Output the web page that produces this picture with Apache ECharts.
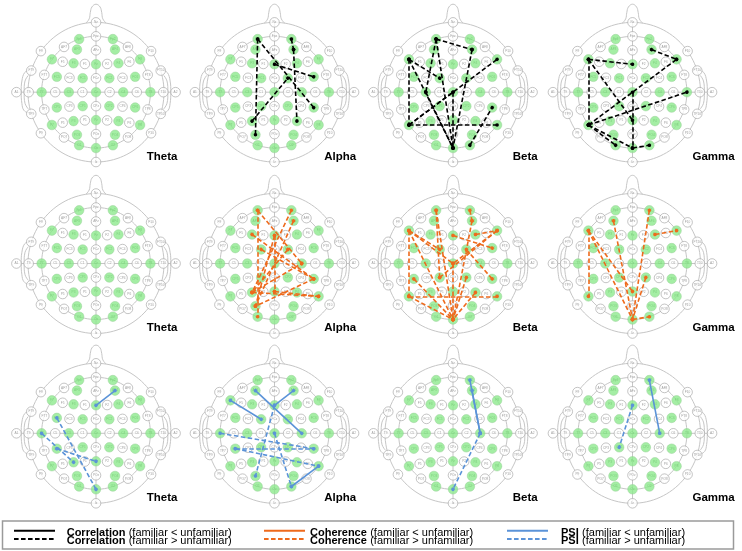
<!DOCTYPE html>
<html>
<head>
<meta charset="utf-8">
<script src="https://cdn.jsdelivr.net/npm/echarts@6/dist/echarts.min.js"></script>
<style>
html, body { margin: 0; padding: 0; background: #fff; }
#chart { width: 742px; height: 551px; }
</style>
</head>
<body>
<div id="chart"></div>
<script>
// montage: name, x, y in head units (Cz = 0,0, nose up)
const electrodes = [
  ['Nz', 0, 5], ['Fpz', 0, 4], ['Fp1', -1.24, 3.8], ['Fp2', 1.24, 3.8],
  ['AF7', -2.35, 3.24], ['AF3', -1.4, 3.05], ['AFz', 0, 3], ['AF4', 1.4, 3.05], ['AF8', 2.35, 3.24],
  ['F9', -4.05, 2.94], ['F7', -3.24, 2.35], ['F5', -2.45, 2.18], ['F3', -1.65, 2.07], ['F1', -0.82, 2.02], ['Fz', 0, 2],
  ['F2', 0.82, 2.02], ['F4', 1.65, 2.07], ['F6', 2.45, 2.18], ['F8', 3.24, 2.35], ['F10', 4.05, 2.94],
  ['FT9', -4.76, 1.55], ['FT7', -3.8, 1.24], ['FC5', -2.88, 1.1], ['FC3', -1.95, 1.03], ['FC1', -0.98, 1], ['FCz', 0, 1],
  ['FC2', 0.98, 1], ['FC4', 1.95, 1.03], ['FC6', 2.88, 1.1], ['FT8', 3.8, 1.24], ['FT10', 4.76, 1.55],
  ['A1', -5.85, 0], ['T9', -4.95, 0], ['T7', -4, 0], ['C5', -3, 0], ['C3', -2, 0], ['C1', -1, 0], ['Cz', 0, 0],
  ['C2', 1, 0], ['C4', 2, 0], ['C6', 3, 0], ['T8', 4, 0], ['T10', 4.95, 0], ['A2', 5.85, 0],
  ['TP9', -4.76, -1.55], ['TP7', -3.8, -1.24], ['CP5', -2.88, -1.1], ['CP3', -1.95, -1.03], ['CP1', -0.98, -1], ['CPz', 0, -1],
  ['CP2', 0.98, -1], ['CP4', 1.95, -1.03], ['CP6', 2.88, -1.1], ['TP8', 3.8, -1.24], ['TP10', 4.76, -1.55],
  ['P9', -4.05, -2.94], ['P7', -3.24, -2.35], ['P5', -2.45, -2.18], ['P3', -1.65, -2.07], ['P1', -0.82, -2.02], ['Pz', 0, -2],
  ['P2', 0.82, -2.02], ['P4', 1.65, -2.07], ['P6', 2.45, -2.18], ['P8', 3.24, -2.35], ['P10', 4.05, -2.94],
  ['PO7', -2.35, -3.24], ['PO3', -1.4, -3.05], ['POz', 0, -3], ['PO4', 1.4, -3.05], ['PO8', 2.35, -3.24],
  ['O1', -1.24, -3.8], ['Oz', 0, -4], ['O2', 1.24, -3.8], ['Iz', 0, -5]
];

// recorded channels (green)
const recorded = ['Fp1', 'Fp2', 'AF3', 'AF4', 'F7', 'F3', 'Fz', 'F4', 'F8', 'FC5', 'FC1', 'FC2', 'FC6',
  'T7', 'C3', 'Cz', 'C4', 'T8', 'CP5', 'CP1', 'CP2', 'CP6', 'P7', 'P3', 'Pz', 'P4', 'P8',
  'PO3', 'PO4', 'O1', 'Oz', 'O2'];

const bands = ['Theta', 'Alpha', 'Beta', 'Gamma'];
const measures = ['Correlation', 'Coherence', 'PSI'];

// significant pairs, Lt = familiar < unfamiliar (solid), Gt = familiar > unfamiliar (dashed)
const corrAlphaGt = [['Fp1', 'PO3'], ['Fp1', 'CP6'], ['Fz', 'FC6'], ['Fp2', 'AF4'], ['AF4', 'P4'], ['P3', 'FC2']];
const corrBetaGt = [['Fp1', 'AF4'], ['Fp1', 'Oz'], ['Fp1', 'C3'], ['AF4', 'Oz'], ['F7', 'FC1'], ['F7', 'P7'],
  ['F7', 'Oz'], ['P7', 'P8'], ['P7', 'F8'], ['P7', 'Cz'], ['C3', 'Oz'], ['Cz', 'Oz'], ['O2', 'CP6']];
const corrGammaGt = [['F7', 'Fz'], ['AF4', 'F8'], ['F7', 'P7'], ['F7', 'Pz'], ['P7', 'F8'], ['P7', 'T8'],
  ['P7', 'O1'], ['P7', 'Oz'], ['Cz', 'Oz'], ['Oz', 'O2']];

const cohAlphaGt = [['Fp1', 'C4'], ['Fp1', 'O1'], ['Fp2', 'P3'], ['F3', 'CP6'], ['Fz', 'PO3'], ['FC2', 'P3'],
  ['P3', 'P8'], ['Pz', 'P8'], ['CP6', 'PO3'], ['FC1', 'CP6'], ['Fz', 'Pz'], ['AF4', 'PO3'], ['P3', 'C4']];
const cohBetaGt = [['Fp1', 'Oz'], ['F7', 'Oz'], ['F7', 'P7'], ['P7', 'P8'], ['F7', 'Cz'], ['F7', 'FC1'],
  ['Fp1', 'CP1'], ['Fp2', 'AF4'], ['AF4', 'Oz'], ['F8', 'CP1'], ['Fz', 'FC6'], ['F4', 'F8'], ['CP5', 'Oz'],
  ['P4', 'Oz'], ['Cz', 'Oz'], ['CP2', 'Oz'], ['P7', 'Oz'], ['F8', 'Cz'], ['CP6', 'FC2']];
const cohGammaGt = [['F7', 'P7'], ['F7', 'Oz'], ['F7', 'Pz'], ['AF3', 'Oz'], ['Fp2', 'Oz'], ['F4', 'F8'],
  ['CP2', 'Oz'], ['Oz', 'O2']];

const psiThetaLt = [['AF4', 'Fz']];
const psiThetaGt = [['T7', 'P3'], ['FC5', 'Oz'], ['CP5', 'Pz']];
const psiAlphaLt = [['F7', 'FC1'], ['AF3', 'C4'], ['AF4', 'Fz'], ['O2', 'P8']];
const psiAlphaGt = [['T7', 'CP6'], ['CP5', 'CP6'], ['CP5', 'P8'], ['Fz', 'PO3'], ['Cz', 'O2']];
const psiBetaLt = [['Fp2', 'C4'], ['AF4', 'C4']];
const psiBetaGt = [['C4', 'Oz']];
const psiGammaLt = [['Fp2', 'C4']];
const psiGammaGt = [['Fz', 'CP1']];

// [row][col] -> [lt, gt]
const panelLinks = [
  [[[], []], [[], corrAlphaGt], [[], corrBetaGt], [[], corrGammaGt]],
  [[[], []], [[], cohAlphaGt], [[], cohBetaGt], [[], cohGammaGt]],
  [[psiThetaLt, psiThetaGt], [psiAlphaLt, psiAlphaGt], [psiBetaLt, psiBetaGt], [psiGammaLt, psiGammaGt]]
];

const measureColors = ['#000000', '#EE6A1C', '#5B93D8'];

// layout
const colX = [96, 274.5, 453, 632.5];
const rowY = [92, 263.5, 433.3];
const SX = 13.6, SY = 14;
const X0 = -6.5, X1 = 6.5, Y0 = -5.6, Y1 = 6.6;
const labelDx = [50.7, 49.7, 59.7, 60];
const FONT = '"Liberation Sans", Arial, sans-serif';

const pos = {};
electrodes.forEach(e => { pos[e[0]] = [e[1], e[2]]; });

const outlineStyle = { stroke: '#c6c6c6', lineWidth: 1, fill: null };

function renderHead(params, api) {
  const pt = (x, y) => api.coord([x, y]);
  const ring = r => {
    const pts = [];
    for (let a = 0; a <= 360; a += 3) {
      const t = a * Math.PI / 180;
      pts.push(pt(r * Math.sin(t), r * Math.cos(t)));
    }
    return pts;
  };
  const nose = [[-0.75, 4.94], [-0.5, 5.25], [-0.42, 5.7], [-0.3, 6.1], [0, 6.3], [0.3, 6.1], [0.42, 5.7], [0.5, 5.25], [0.75, 4.94]];
  const earL = [[-4.88, 1.6], [-5.25, 1.4], [-5.45, 0.8], [-5.5, 0], [-5.45, -0.8], [-5.3, -1.3], [-4.85, -1.55]];
  const earLIn = [[-4.98, 1.2], [-5.22, 0.8], [-5.28, 0], [-5.22, -0.8], [-4.98, -1.2]];
  const mirror = list => list.map(p => [-p[0], p[1]]);
  const poly = (list, smooth) => ({
    type: 'polyline',
    shape: { points: list.map(p => pt(p[0], p[1])), smooth: smooth },
    style: outlineStyle
  });
  const a1 = pt(-5.85, 0), a2 = pt(5.85, 0), nz = pt(0, 5), iz = pt(0, -5);
  return {
    type: 'group',
    children: [
      { type: 'polyline', shape: { points: ring(5) }, style: outlineStyle },
      { type: 'polyline', shape: { points: ring(4) }, style: outlineStyle },
      poly(nose, 0.4),
      poly(earL, 0.4), poly(mirror(earL), 0.4),
      poly(earLIn, 0.4), poly(mirror(earLIn), 0.4),
      { type: 'line', shape: { x1: a1[0], y1: a1[1], x2: a2[0], y2: a2[1] }, style: outlineStyle },
      { type: 'line', shape: { x1: nz[0], y1: nz[1], x2: iz[0], y2: iz[1] }, style: outlineStyle }
    ]
  };
}

const grids = [], xAxes = [], yAxes = [], series = [], graphics = [];

measures.forEach((m, r) => {
  bands.forEach((b, c) => {
    const p = r * 4 + c;
    const cx = colX[c], cy = rowY[r];
    grids.push({
      left: cx + X0 * SX, top: cy - Y1 * SY,
      width: (X1 - X0) * SX, height: (Y1 - Y0) * SY
    });
    xAxes.push({ type: 'value', gridIndex: p, min: X0, max: X1, show: false });
    yAxes.push({ type: 'value', gridIndex: p, min: Y0, max: Y1, show: false });

    series.push({
      type: 'custom', xAxisIndex: p, yAxisIndex: p, clip: false, silent: true, z: 1,
      data: [[0, 0]], renderItem: renderHead
    });

    series.push({
      type: 'scatter', xAxisIndex: p, yAxisIndex: p, clip: false, silent: true, z: 2,
      symbolSize: 9.6,
      data: electrodes.map(e => {
        const green = recorded.includes(e[0]);
        return {
          value: [e[1], e[2], e[0]],
          itemStyle: green
            ? { color: '#8DEA8D', borderColor: '#98cf98', borderWidth: 0.6 }
            : { color: '#ffffff', borderColor: '#a2a2a2', borderWidth: 0.8 },
          label: { color: green ? '#74c874' : '#8a8a8a' }
        };
      }),
      label: {
        show: true, position: 'inside', fontSize: 3.2, fontFamily: FONT,
        formatter: d => d.value[2]
      }
    });

    const [lt, gt] = panelLinks[r][c];
    [[lt, 'solid'], [gt, [4.5, 2.5]]].forEach(([links, dash]) => {
      if (!links.length) return;
      series.push({
        type: 'lines', coordinateSystem: 'cartesian2d', xAxisIndex: p, yAxisIndex: p,
        clip: false, silent: true, z: 5,
        symbol: ['circle', 'circle'], symbolSize: 3.6,
        lineStyle: { color: measureColors[r], width: 1.6, type: dash, opacity: 1 },
        itemStyle: { color: measureColors[r] },
        data: links.map(([a, bb]) => ({ coords: [pos[a], pos[bb]] }))
      });
    });

    graphics.push({
      type: 'text', x: cx + labelDx[c], y: cy + 64.7, z: 10,
      style: {
        text: b, font: 'bold 11.5px ' + FONT, fill: '#000',
        align: 'left', verticalAlign: 'middle'
      }
    });
  });
});

// legend box
const legendX = [14, 264, 507];
const legendTextX = [66.7, 310, 561];
graphics.push({
  type: 'rect', z: 10,
  shape: { x: 2.5, y: 521, width: 731, height: 28 },
  style: { fill: '#fff', stroke: '#9a9a9a', lineWidth: 1.5 }
});
const relations = ['(familiar < unfamiliar)', '(familiar > unfamiliar)'];
measures.forEach((m, i) => {
  relations.forEach((rel, k) => {
    const ly = k === 0 ? 530.7 : 539;
    graphics.push({
      type: 'line', z: 11,
      shape: { x1: legendX[i], y1: ly, x2: legendX[i] + 41, y2: ly },
      style: { stroke: measureColors[i], lineWidth: 2, lineDash: k === 0 ? null : [4.6, 2.4] }
    });
    graphics.push({
      type: 'text', z: 11, x: legendTextX[i], y: k === 0 ? 532.6 : 540.7,
      style: {
        text: '{b|' + m + '} {n|' + rel + '}',
        align: 'left', verticalAlign: 'middle',
        rich: {
          b: { font: 'bold 11px ' + FONT, fill: '#000' },
          n: { font: '11px ' + FONT, fill: '#000' }
        }
      }
    });
  });
});

const myChart = echarts.init(document.getElementById('chart'));
myChart.setOption({
  animation: false,
  backgroundColor: '#fff',
  grid: grids,
  xAxis: xAxes,
  yAxis: yAxes,
  series: series,
  graphic: graphics
});

window.addEventListener('resize', () => {
  myChart.resize();
});
</script>
</body>
</html>
